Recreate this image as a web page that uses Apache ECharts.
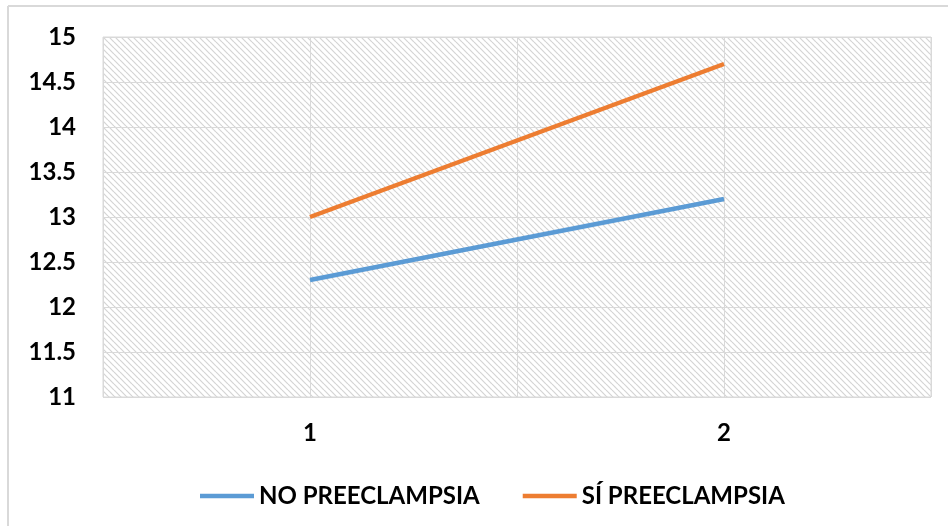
<!DOCTYPE html>
<html>
<head>
<meta charset="utf-8">
<script src="https://cdn.jsdelivr.net/npm/echarts@6/dist/echarts.min.js"></script>
<style>
html,body{margin:0;padding:0;background:#fff;}
#chart{width:948px;height:526px;}
</style>
</head>
<body>
<div id="chart"></div>
<script>
const categories = ['1', '2'];
const seriesNames = ['NO PREECLAMPSIA', 'SÍ PREECLAMPSIA'];
const noPreeclampsia = [12.3, 13.2];
const siPreeclampsia = [13.0, 14.7];
const yTicks = [11, 11.5, 12, 12.5, 13, 13.5, 14, 14.5, 15];

function hatch() {
  const s = 6;
  const c = document.createElement('canvas');
  c.width = s; c.height = s;
  const g = c.getContext('2d');
  g.fillStyle = '#ffffff';
  g.fillRect(0, 0, s, s);
  g.strokeStyle = '#d4d4d4';
  g.lineWidth = 1.2;
  for (const k of [-s, 0, s]) {
    g.beginPath();
    g.moveTo(0, k);
    g.lineTo(s, s + k);
    g.stroke();
  }
  return c;
}

const toPts = arr => arr.map((v, i) => [i + 1, v]);
const font = 'Lato, "Open Sans", sans-serif';

const chart = echarts.init(document.getElementById('chart'), null, {renderer: 'canvas'});
chart.setOption({
  animation: false,
  backgroundColor: '#ffffff',
  graphic: [
    {type: 'line', shape: {x1: 8, y1: 6, x2: 948, y2: 6}, style: {stroke: '#d9d9d9', lineWidth: 2}},
    {type: 'line', shape: {x1: 8, y1: 6, x2: 8, y2: 526}, style: {stroke: '#d9d9d9', lineWidth: 2}}
  ],
  grid: {
    left: 103, right: 17, top: 37, bottom: 129,
    show: true,
    backgroundColor: {image: hatch(), repeat: 'repeat'},
    borderColor: '#d9d9d9',
    borderWidth: 1
  },
  legend: {
    top: 479,
    left: 195,
    icon: 'rect',
    itemWidth: 54,
    itemHeight: 4.5,
    itemGap: 43,
    textStyle: {fontFamily: font, fontWeight: 'bold', fontSize: 24, color: '#000'},
    data: seriesNames
  },
  xAxis: {
    type: 'value',
    min: 0.5, max: 2.5, interval: 0.5,
    axisLine: {show: false},
    axisTick: {show: false},
    splitLine: {show: true, lineStyle: {color: '#d9d9d9', width: 1}},
    axisLabel: {
      margin: 24,
      fontFamily: font, fontWeight: 'bold', fontSize: 24, color: '#000',
      showMinLabel: false, showMaxLabel: false,
      formatter: v => {
        const i = Math.round(v) - 1;
        return (Math.abs(v - Math.round(v)) < 1e-6 && categories[i] !== undefined) ? categories[i] : '';
      }
    }
  },
  yAxis: {
    type: 'value',
    min: yTicks[0], max: yTicks[yTicks.length - 1], interval: 0.5,
    axisLine: {show: false},
    axisTick: {show: false},
    splitLine: {lineStyle: {color: '#d9d9d9', width: 1}},
    axisLabel: {margin: 27, fontFamily: font, fontWeight: 'bold', fontSize: 24, color: '#000'}
  },
  series: [
    {name: seriesNames[0], type: 'line', data: toPts(noPreeclampsia), showSymbol: false, symbol: 'none',
     lineStyle: {color: '#5b9bd5', width: 4.5}, itemStyle: {color: '#5b9bd5'}},
    {name: seriesNames[1], type: 'line', data: toPts(siPreeclampsia), showSymbol: false, symbol: 'none',
     lineStyle: {color: '#ed7d31', width: 4.5}, itemStyle: {color: '#ed7d31'}}
  ]
});
</script>
</body>
</html>
